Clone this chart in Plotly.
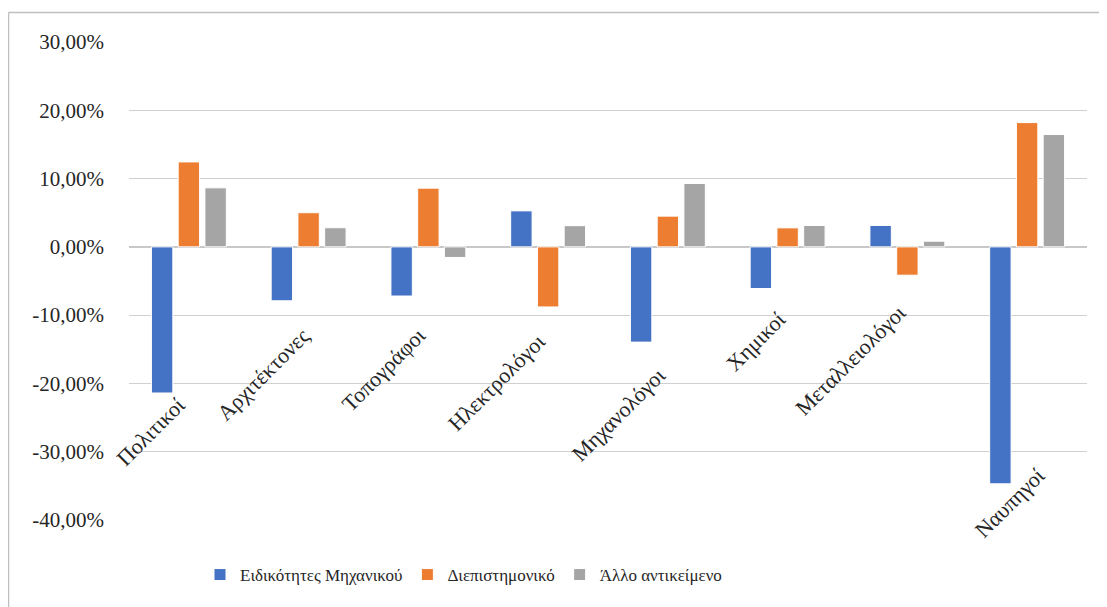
import plotly.graph_objects as go

categories = ["Πολιτικοί", "Αρχιτέκτονες", "Τοπογράφοι", "Ηλεκτρολόγοι",
              "Μηχανολόγοι", "Χημικοί", "Μεταλλειολόγοι", "Ναυπηγοί"]
series_names = ["Ειδικότητες Μηχανικού", "Διεπιστημονικό", "Άλλο αντικείμενο"]
eidikotites = [-0.214, -0.079, -0.072, 0.0527, -0.1395, -0.061, 0.0313, -0.347]
diepistimoniko = [0.1244, 0.050, 0.086, -0.088, 0.045, 0.0278, -0.0415, 0.182]
allo = [0.0864, 0.028, -0.0155, 0.031, 0.0928, 0.0313, 0.0083, 0.1645]
tick_vals = [-0.4, -0.3, -0.2, -0.1, 0.0, 0.1, 0.2, 0.3]
tick_text = [f"{v*100:.2f}%".replace(".", ",") for v in tick_vals]

colors = ["#4472C4", "#ED7D31", "#A5A5A5"]
FONT = "Liberation Serif"
TXT = "#262626"

OFF = 8  # default page body margin
W, H = 1107 - OFF, 607 - OFF
L, T = 129 - OFF, 42 - OFF
PW, PH = 958, 478
R, B = W - L - PW, H - T - PH

fig = go.Figure()
for name, vals, col in zip(series_names, [eidikotites, diepistimoniko, allo], colors):
    fig.add_trace(go.Bar(
        x=list(range(len(categories))), y=vals, name=name,
        marker=dict(color=col, line=dict(color="white", width=1)),
    ))

# category label anchors (layout positions, top-right end of rotated text)
label_y = [-0.209, -0.107, -0.107, -0.117, -0.166, -0.083, -0.074, -0.312]
label_dx = [0.034, 0.07, 0.04, 0.04, 0.043, 0.045, 0.047, 0.216]
annotations = []
for i, (cat, ly, dx) in enumerate(zip(categories, label_y, label_dx)):
    annotations.append(dict(
        x=i + dx, y=ly, xref="x", yref="y", text=cat, showarrow=False,
        textangle=-45, xanchor="right", yanchor="top",
        font=dict(family=FONT, size=22, color=TXT),
    ))

def px_x(p):
    return (p - OFF - L) / PW

def px_y(p):
    return (H - B - (p - OFF)) / PH

shapes = [
    dict(type="line", xref="paper", yref="paper",
         x0=px_x(8.5), x1=px_x(1120), y0=px_y(12.5), y1=px_y(12.5),
         line=dict(color="#BFBFBF", width=1.5)),
    dict(type="line", xref="paper", yref="paper",
         x0=px_x(8.5), x1=px_x(8.5), y0=px_y(12.5), y1=px_y(620),
         line=dict(color="#BFBFBF", width=1.5)),
]

fig.update_layout(
    width=W, height=H,
    margin=dict(l=L, r=R, t=T, b=B, autoexpand=False),
    paper_bgcolor="white", plot_bgcolor="white",
    barmode="group", bargap=0.33, bargroupgap=0.2,
    font=dict(family=FONT, size=19, color=TXT),
    xaxis=dict(range=[-0.5, len(categories) - 0.5], showticklabels=False,
               showgrid=False, zeroline=False, showline=False, ticks=""),
    yaxis=dict(range=[-0.4, 0.3], tickvals=tick_vals, ticktext=tick_text,
               showgrid=True, gridcolor="#D0D0D0", gridwidth=1.3,
               zeroline=True, zerolinecolor="#C8C8C8", zerolinewidth=1.5,
               showline=False, ticks="", ticklabelstandoff=24,
               tickfont=dict(family=FONT, size=21, color=TXT)),
    legend=dict(orientation="h", x=px_x(200), xanchor="left",
                y=px_y(557), yanchor="top",
                font=dict(family=FONT, size=17, color=TXT),
                traceorder="normal", itemclick=False),
    annotations=annotations,
    shapes=shapes,
)

fig.write_html("out.html")
